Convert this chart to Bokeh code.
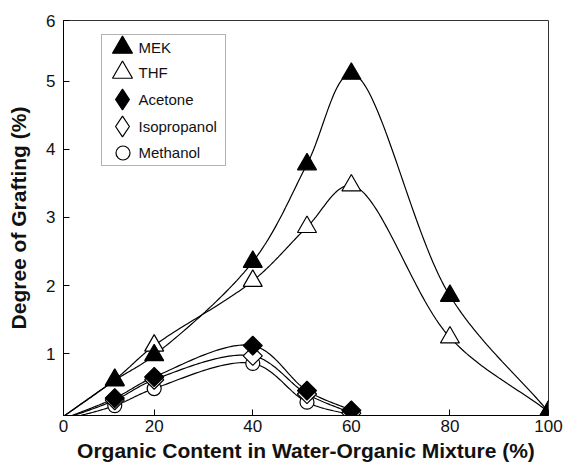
import numpy as np
from bokeh.plotting import figure
from bokeh.models import Range1d, FixedTicker, Legend, LegendItem, BoxAnnotation, Label
from bokeh.embed import file_html
from bokeh.resources import INLINE

# ---- data ----
origin_x, origin_y = 0.0, 0.0          # all curves start at the origin
mek_x = [12, 20, 40, 51, 60, 80, 100]
mek_y = [0.61, 0.98, 2.35, 3.78, 5.11, 1.85, 0.15]
thf_x = [12, 20, 40, 51, 60, 80, 100]
thf_y = [0.62, 1.12, 2.07, 2.86, 3.47, 1.24, 0.15]
ace_x = [12, 20, 40, 51, 60]
ace_y = [0.35, 0.66, 1.12, 0.46, 0.17]
iso_x = [12, 20, 40, 51, 60]
iso_y = [0.32, 0.62, 0.97, 0.41, 0.13]
met_x = [12, 20, 40, 51, 60]
met_y = [0.24, 0.49, 0.86, 0.29, 0.10]
series_names = ["MEK", "THF", "Acetone", "Isopropanol", "Methanol"]
x_ticks = [20, 40, 60, 80, 100]
y_ticks = [1, 2, 3, 4, 5]
x_start, x_end = 1.6, 100
y_start, y_end = 0.095, 5.89

FONT = "Liberation Sans"
SX, SY = 4.93, 68.15   # pixels per data unit, used only to shape the smooth curves


def catmull_rom(xk, yk, n=40):
    P = np.column_stack([np.asarray(xk, float) * SX, np.asarray(yk, float) * SY])
    P = np.vstack([2 * P[0] - P[1], P, 2 * P[-1] - P[-2]])
    out = []
    for i in range(1, len(P) - 2):
        p0, p1, p2, p3 = P[i - 1], P[i], P[i + 1], P[i + 2]
        t0 = 0.0
        t1 = t0 + np.linalg.norm(p1 - p0) ** 0.5
        t2 = t1 + np.linalg.norm(p2 - p1) ** 0.5
        t3 = t2 + np.linalg.norm(p3 - p2) ** 0.5
        t = np.linspace(t1, t2, n)[:, None]
        A1 = (t1 - t) / (t1 - t0) * p0 + (t - t0) / (t1 - t0) * p1
        A2 = (t2 - t) / (t2 - t1) * p1 + (t - t1) / (t2 - t1) * p2
        A3 = (t3 - t) / (t3 - t2) * p2 + (t - t2) / (t3 - t2) * p3
        B1 = (t2 - t) / (t2 - t0) * A1 + (t - t0) / (t2 - t0) * A2
        B2 = (t3 - t) / (t3 - t1) * A2 + (t - t1) / (t3 - t1) * A3
        C = (t2 - t) / (t2 - t1) * B1 + (t - t1) / (t2 - t1) * B2
        out.append(C if i == 1 else C[1:])
    C = np.vstack(out)
    return C[:, 0] / SX, C[:, 1] / SY


p = figure(width=564, height=467, output_backend="svg", toolbar_location=None,
           x_range=Range1d(x_start, x_end), y_range=Range1d(y_start, y_end),
           min_border_left=63, min_border_right=16, min_border_top=20, min_border_bottom=52)
p.grid.visible = False
p.outline_line_color = "#333333"
p.outline_line_width = 1
p.background_fill_color = "white"
p.border_fill_color = "white"

# smooth curves through the measured points
for xs_, ys_ in [(mek_x, mek_y), (thf_x, thf_y), (ace_x, ace_y), (iso_x, iso_y), (met_x, met_y)]:
    cx, cy = catmull_rom([origin_x] + xs_, [origin_y] + ys_)
    p.line(cx, cy, line_color="black", line_width=1.2)

LW = 1.2
p.scatter(met_x, met_y, marker="circle", size=14, fill_color="white", line_color="black", line_width=LW)
p.scatter(iso_x, iso_y, marker="square", angle=np.pi / 4, size=13.5, fill_color="white", line_color="black", line_width=LW)
r_thf = p.scatter(thf_x, thf_y, marker="triangle", size=19, fill_color="white", line_color="black", line_width=LW)
p.scatter(ace_x, ace_y, marker="square", angle=np.pi / 4, size=13.5, fill_color="black", line_color="black", line_width=LW)
r_mek = p.scatter(mek_x, mek_y, marker="triangle", size=19, fill_color="black", line_color="black", line_width=LW)

# legend-only renderers (a single NaN point, never visible in the plot)
nan = [float("nan")]
lg_ace = p.scatter(x=nan, y=nan, marker="diamond", fill_color="black", line_color="black", line_width=LW)
lg_iso = p.scatter(x=nan, y=nan, marker="diamond", fill_color="white", line_color="black", line_width=LW)
lg_met = p.scatter(x=nan, y=nan, marker="circle", fill_color="white", line_color="black", line_width=LW)

# axes
for ax in (p.xaxis[0], p.yaxis[0]):
    ax.major_tick_in = 6
    ax.major_tick_out = 0
    ax.minor_tick_line_color = None
    ax.axis_line_color = "black"
    ax.major_tick_line_color = "black"
    ax.major_label_text_font = FONT
    ax.major_label_text_font_size = "17px"
    ax.major_label_text_color = "#111111"
    ax.axis_label_text_font = FONT
    ax.axis_label_text_font_style = "bold"
    ax.axis_label_text_font_size = "21px"
    ax.axis_label_text_color = "#111111"

p.xaxis.ticker = FixedTicker(ticks=[x_start] + x_ticks)
p.xaxis.major_label_overrides = {x_start: "0"}
p.yaxis.ticker = FixedTicker(ticks=y_ticks + [y_end])
p.yaxis.major_label_overrides = {y_end: "6"}
p.xaxis.axis_label = "Organic Content in Water-Organic Mixture (%)"
p.yaxis.axis_label = "Degree of Grafting (%)"
p.xaxis.major_label_standoff = 4
p.yaxis.major_label_standoff = 8
p.xaxis.axis_label_standoff = 4
p.yaxis.axis_label_standoff = 13

# legend frame (frame-relative screen px, y measured upward from frame bottom)
FRAME_L, FRAME_B = 63, 415
box = BoxAnnotation(left=101 - FRAME_L, right=225 - FRAME_L, top=FRAME_B - 34, bottom=FRAME_B - 165,
                    left_units="screen", right_units="screen", top_units="screen", bottom_units="screen",
                    fill_color="white", fill_alpha=1, line_color="black", line_width=1)
p.add_layout(box)

GLYPH_X = 122   # legend glyph centres (canvas px)
LABEL_X = 138   # where legend texts start (canvas px)
ROWS = [47, 72, 99, 126, 152]


def make_legend_glyph(renderer, glyph, row_center):
    left = GLYPH_X - glyph / 2
    bottom = row_center + glyph / 2
    lg = Legend(items=[LegendItem(label=" ", renderers=[renderer])],
                location=(left - FRAME_L, FRAME_B - bottom))
    lg.label_text_font_size = "1px"
    lg.label_width = 0
    lg.glyph_width = glyph
    lg.glyph_height = glyph
    lg.padding = 0
    lg.margin = 0
    lg.label_standoff = 0
    lg.border_line_color = None
    lg.background_fill_alpha = 0
    p.add_layout(lg, "center")


for name, rend, g, yc in zip(series_names, [r_mek, r_thf, lg_ace, lg_iso, lg_met],
                             [50, 50, 52, 52, 35], ROWS):
    make_legend_glyph(rend, g, yc)
    p.add_layout(Label(x=LABEL_X - FRAME_L, y=FRAME_B - yc, x_units="screen", y_units="screen",
                       text=name, text_align="left", text_baseline="middle",
                       text_font=FONT, text_font_size="15px", text_color="#111111"))

open("out.html", "w").write(file_html(p, INLINE))
